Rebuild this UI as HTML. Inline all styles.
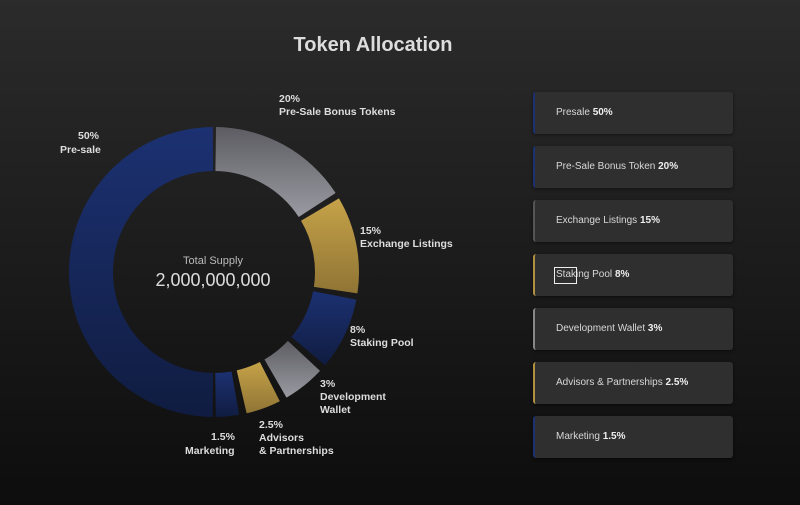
<!DOCTYPE html>
<html><head><meta charset="utf-8"><style>
body{margin:0;width:800px;height:505px;overflow:hidden;background:linear-gradient(#2b2b2b,#0d0d0d);font-family:"Liberation Sans",sans-serif;position:relative}
.t{position:absolute;color:#ddd;font-weight:bold;font-size:10.5px;line-height:13px}
.card{position:absolute;left:533px;width:200px;height:42px;background:#2f2f2f;border-radius:3px;box-shadow:0 1px 3px rgba(0,0,0,.5);color:#d8d8d8;font-size:10px;line-height:42px;box-sizing:border-box;padding-left:21px}
.card b{color:#eee}
</style></head><body>
<div style="position:absolute;left:0;width:746px;top:34px;text-align:center;color:#ddd;font-weight:bold;font-size:20px">Token Allocation</div>
<svg width="800" height="505" style="position:absolute;left:0;top:0">
<defs>
<linearGradient id="bl" x1="0" y1="0" x2="0" y2="1"><stop offset="0" stop-color="#1c3172"/><stop offset="1" stop-color="#101c40"/></linearGradient>
<linearGradient id="gr" x1="0" y1="0" x2="0" y2="1"><stop offset="0" stop-color="#5c5c62"/><stop offset="1" stop-color="#9a9aa2"/></linearGradient>
<linearGradient id="go" x1="0" y1="0" x2="0" y2="1"><stop offset="0" stop-color="#c6a349"/><stop offset="1" stop-color="#8f7434"/></linearGradient>
</defs>
<g id="d"></g>
</svg>
<script>
var cx=214,cy=272,R=145,r=101;
function p(a,rad){a=a*Math.PI/180;return [cx+rad*Math.sin(a),cy-rad*Math.cos(a)];}
function seg(a1,a2,f){var o1=p(a1,R),o2=p(a2,R),i2=p(a2,r),i1=p(a1,r),l=(a2-a1)>180?1:0;
return '<path fill="'+f+'" d="M'+o1+' A'+R+' '+R+' 0 '+l+' 1 '+o2+' L'+i2+' A'+r+' '+r+' 0 '+l+' 0 '+i1+'Z"/>';}
document.getElementById('d').innerHTML=
seg(180.5,359.5,'url(#bl)')+seg(0.8,57,'url(#gr)')+seg(59.5,98.5,'url(#go)')+seg(101,130,'url(#bl)')+
seg(133,150,'url(#gr)')+seg(153,167,'url(#go)')+seg(170,179.3,'url(#bl)');
</script>
<div style="position:absolute;left:113px;width:200px;top:255px;text-align:center;color:#bbb;font-size:11px">Total Supply</div>
<div style="position:absolute;left:113px;width:200px;top:270px;text-align:center;color:#ddd;font-size:18px">2,000,000,000</div>
<div class="t" style="left:78px;top:130px">50%</div>
<div class="t" style="left:60px;top:144px">Pre-sale</div>
<div class="t" style="left:279px;top:93px">20%<br>Pre-Sale Bonus Tokens</div>
<div class="t" style="left:360px;top:225px">15%<br>Exchange Listings</div>
<div class="t" style="left:350px;top:324px">8%<br>Staking Pool</div>
<div class="t" style="left:320px;top:378px">3%<br>Development<br>Wallet</div>
<div class="t" style="left:259px;top:419px">2.5%<br>Advisors<br>&amp; Partnerships</div>
<div class="t" style="left:211px;top:431px">1.5%</div>
<div class="t" style="left:185px;top:445px">Marketing</div>
<div class="card" style="top:92px;border-left:2px solid #1c3172">Presale <b>50%</b></div>
<div class="card" style="top:146px;border-left:2px solid #1c3172">Pre-Sale Bonus Token <b>20%</b></div>
<div class="card" style="top:200px;border-left:2px solid #555">Exchange Listings <b>15%</b></div>
<div class="card" style="top:254px;border-left:2px solid #b0903f">Staking Pool <b>8%</b></div>
<div class="card" style="top:308px;border-left:2px solid #888">Development Wallet <b>3%</b></div>
<div class="card" style="top:362px;border-left:2px solid #b0903f">Advisors &amp; Partnerships <b>2.5%</b></div>
<div class="card" style="top:416px;border-left:2px solid #1c3172">Marketing <b>1.5%</b></div>
<div style="position:absolute;left:554px;top:267px;width:21px;height:15px;border:1px solid #eee"></div>
</body></html>
